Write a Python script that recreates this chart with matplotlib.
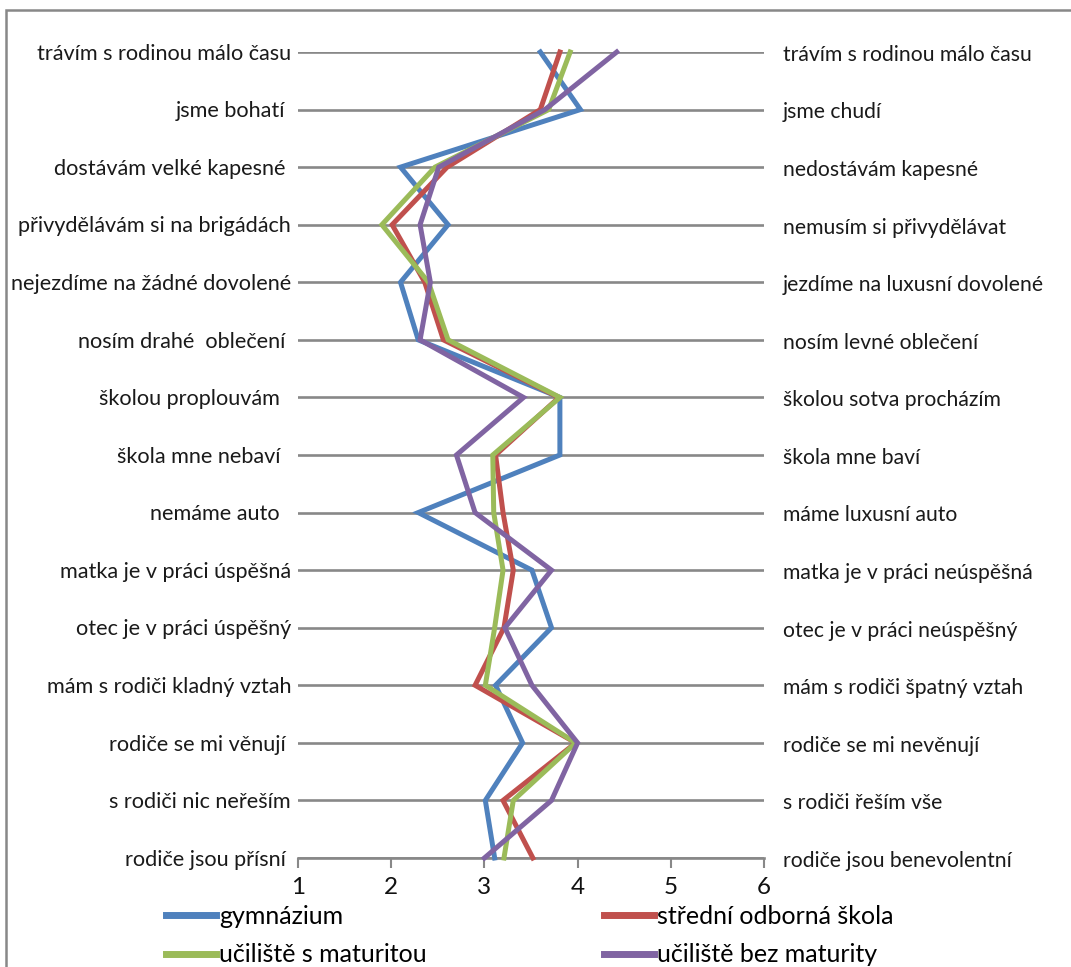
import matplotlib.pyplot as plt
from matplotlib.patches import Rectangle
import numpy as np

# Semantic differential: left pole, right pole, mean scores by school type
left_labels = [
    "trávím s rodinou málo času", "jsme bohatí ", "dostávám velké kapesné ",
    "přivydělávám si na brigádách", "nejezdíme na žádné dovolené",
    "nosím drahé  oblečení ", "školou proplouvám  ", "škola mne nebaví  ",
    "nemáme auto  ", "matka je v práci úspěšná", "otec je v práci úspěšný",
    "mám s rodiči kladný vztah", "rodiče se mi věnují ", "s rodiči nic neřeším",
    "rodiče jsou přísní ",
]
right_labels = [
    "trávím s rodinou málo času", "jsme chudí", "nedostávám kapesné",
    "nemusím si přivydělávat", "jezdíme na luxusní dovolené",
    "nosím levné oblečení", "školou sotva procházím", "škola mne baví",
    "máme luxusní auto", "matka je v práci neúspěšná", "otec je v práci neúspěšný",
    "mám s rodiči špatný vztah", "rodiče se mi nevěnují", "s rodiči řeším vše",
    "rodiče jsou benevolentní",
]

gymnazium = [3.60, 4.03, 2.10, 2.61, 2.10, 2.29, 3.81, 3.81, 2.29, 3.51, 3.72, 3.12, 3.41, 3.01, 3.11]
sos = [3.81, 3.60, 2.60, 2.01, 2.36, 2.56, 3.80, 3.12, 3.20, 3.31, 3.21, 2.90, 3.98, 3.20, 3.52]
uciliste_mat = [3.92, 3.69, 2.47, 1.90, 2.40, 2.61, 3.81, 3.09, 3.10, 3.20, 3.11, 3.01, 3.98, 3.31, 3.21]
uciliste_bez = [4.42, 3.65, 2.51, 2.31, 2.42, 2.31, 3.42, 2.70, 2.90, 3.72, 3.22, 3.51, 4.00, 3.72, 3.00]

series_names = ["gymnázium", "střední odborná škola", "učiliště s maturitou", "učiliště bez maturity"]
series_values = [gymnazium, sos, uciliste_mat, uciliste_bez]
series_colors = ["#4F81BD", "#C0504D", "#9BBB59", "#8064A2"]

plt.rcParams['font.family'] = ['Lato', 'DejaVu Sans']

W, H = 1071, 967
fig = plt.figure(figsize=(W / 100, H / 100), dpi=100)
ax = fig.add_axes([298 / W, 1 - 858 / H, (764 - 298) / W, (858 - 52) / H])

n = len(left_labels)
ypos = np.arange(n)[::-1]  # first item at the top

for y in ypos:
    ax.axhline(y, color='#888888', lw=1.9, zorder=1)

lines = []
for name, vals, col in zip(series_names, series_values, series_colors):
    ln, = ax.plot(vals, ypos, color=col, lw=3.6, label=name, zorder=3,
                  solid_joinstyle='miter', clip_on=False)
    lines.append(ln)

ax.set_xlim(1, 6)
ax.set_ylim(0, n - 1)
ax.set_xticks([1, 2, 3, 4, 5, 6])
ax.tick_params(axis='x', length=7, width=1.5, color='#888888', pad=7,
               labelsize=17.5, labelcolor='#111111')
ax.set_yticks([])
for side in ['left', 'right', 'top']:
    ax.spines[side].set_visible(False)
ax.spines['bottom'].set_color('#888888')
ax.spines['bottom'].set_linewidth(1.9)

# pole labels on both sides
for y, lt, rt in zip(ypos, left_labels, right_labels):
    ax.text(-0.015, y - 0.03, lt, transform=ax.get_yaxis_transform(), ha='right',
            va='center', fontsize=15.6, color='#1a1a1a')
    ax.text(1.04, y - 0.05, rt, transform=ax.get_yaxis_transform(), ha='left',
            va='center', fontsize=15.2, color='#1a1a1a')

# legend, two columns
order = [0, 2, 1, 3]
leg = fig.legend([lines[i] for i in order], [series_names[i] for i in order],
                 ncol=2, loc='upper left', bbox_to_anchor=(166 / W, 1 - 905 / H),
                 frameon=False, fontsize=18, handlelength=2.0, handletextpad=0.12,
                 columnspacing=7.1, labelspacing=0.62, borderpad=0, borderaxespad=0)
for h in leg.legend_handles:
    h.set_linewidth(5)

# outer frame
fig.patches.append(Rectangle((6 / W, -0.05), 1.05, 1 - 10 / H + 0.05,
                             transform=fig.transFigure, fill=False,
                             edgecolor='#888888', lw=1.8))

fig.savefig('out.png', dpi=100, facecolor='white')
